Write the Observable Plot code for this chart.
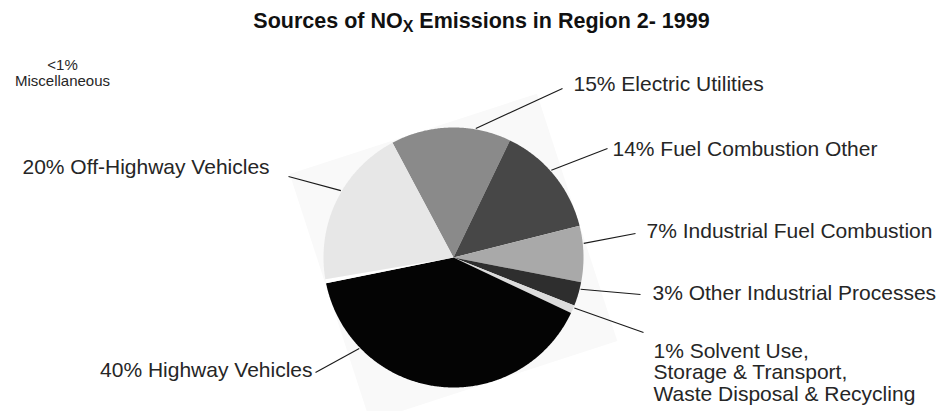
<!DOCTYPE html>
<html><head><meta charset="utf-8">
<script src="https://cdn.jsdelivr.net/npm/d3@7"></script>
<script src="https://cdn.jsdelivr.net/npm/@observablehq/plot@0.6"></script>
<style>
body{margin:0;background:#fff;}
#title{height:40px;box-sizing:border-box;padding-top:11px;padding-left:21px;text-align:center;font:bold 21.5px "Liberation Sans",Arial,sans-serif;line-height:21px;color:#111;white-space:nowrap;}
#title .sub{font-size:16px;position:relative;top:4px;}
</style></head><body>
<div id="title">Sources of NO<span class="sub">X</span> Emissions in Region 2- 1999</div>
<div id="chart"></div>
<script>
// ---- data ----
const sources = ["Electric Utilities", "Fuel Combustion Other", "Industrial Fuel Combustion",
  "Other Industrial Processes", "Solvent Use, Storage & Transport, Waste Disposal & Recycling",
  "Highway Vehicles", "Miscellaneous", "Off-Highway Vehicles"];
const shares = [15, 14, 7, 3, 1, 40, 0.5, 20];
const labelTexts = ["15% Electric Utilities", "14% Fuel Combustion Other", "7% Industrial Fuel Combustion",
  "3% Other Industrial Processes", "1% Solvent Use,\nStorage & Transport,\nWaste Disposal & Recycling",
  "40% Highway Vehicles", "<1%\nMiscellaneous", "20% Off-Highway Vehicles"];

// ---- styles ----
const grays = ["#8a8a8a", "#474747", "#a9a9a9", "#2e2e2e", "#dcdcdc", "#040404", "#ffffff", "#e7e7e7"];

// ---- layout ----
const W = 942, H = 411, TOP = 40;
const cx = 453, cy = 257, R = 130, startDeg = -28, tiltDeg = -18;
const labelX = [573, 612, 646, 652, 653, 312, 62, 22];
const labelY = [84, 149, 230.5, 293, 372, 370, 72.6, 167];
const labelAnchor = ["start", "start", "start", "start", "start", "end", "middle", "start"];
const labelSize = [21, 21, 21, 21, 21, 21, 15, 21];
const labelLH = [1, 1, 1, 1, 1.02, 1, 1.03, 1];
const leaderAngle = [9.8, 48.3, 83.8, 104, 112.7, 226, null, 300.7];
const leaderEndX = [562, 607, 635, 640, 643, 315, null, 288];
const leaderEndY = [88, 148, 233, 294, 332, 372, null, 176];

const rad = d => d * Math.PI / 180;
const pie = d3.pie().sort(null).startAngle(rad(startDeg)).endAngle(rad(startDeg + 360));
const arcs = pie(shares);
const px = a => cx + R * Math.sin(a), py = a => cy - R * Math.cos(a);

const wedges = arcs.map((a, i) => {
  const pts = [{x: cx, y: cy}];
  const n = Math.max(2, Math.ceil((a.endAngle - a.startAngle) / rad(0.5)) + 1);
  for (let k = 0; k < n; k++) {
    const t = a.startAngle + (a.endAngle - a.startAngle) * k / (n - 1);
    pts.push({x: px(t), y: py(t)});
  }
  pts.push({x: cx, y: cy});
  return {pts, color: grays[i], name: sources[i]};
});

// faint tilted square behind the pie (scanned image backdrop)
const bg = [[-1, -1], [1, -1], [1, 1], [-1, 1], [-1, -1]].map(([u, v]) => {
  const t = rad(tiltDeg);
  return {x: cx + R * (u * Math.cos(t) - v * Math.sin(t)), y: cy + R * (u * Math.sin(t) + v * Math.cos(t))};
});

const leaders = sources.map((s, i) => leaderAngle[i] == null ? null : {
  x1: cx + (R + 1) * Math.sin(rad(leaderAngle[i])), y1: cy - (R + 1) * Math.cos(rad(leaderAngle[i])),
  x2: leaderEndX[i], y2: leaderEndY[i]
}).filter(d => d);

const labels = labelTexts.map((t, i) => ({t, x: labelX[i], y: labelY[i], anchor: labelAnchor[i], size: labelSize[i], lh: labelLH[i]}));

const marks = [
  Plot.line(bg, {x: "x", y: "y", fill: "#f9f9f9", stroke: "none"}),
  ...wedges.map(w => Plot.line(w.pts, {x: "x", y: "y", fill: w.color, stroke: "none", title: () => w.name})),
  Plot.link(leaders, {x1: "x1", y1: "y1", x2: "x2", y2: "y2", stroke: "#1a1a1a", strokeWidth: 1.1}),
  ...labels.map(l => Plot.text([l], {x: "x", y: "y", text: "t", textAnchor: l.anchor, lineAnchor: "middle",
    fontSize: l.size, lineHeight: l.lh, fontFamily: "Liberation Sans, Arial, sans-serif", fill: "#262626"}))
];

const chart = Plot.plot({
  width: W, height: H - TOP, margin: 0,
  x: {domain: [0, W], range: [0, W], axis: null},
  y: {domain: [TOP, H], range: [0, H - TOP], axis: null},
  style: {background: "transparent", overflow: "visible"},
  marks
});
document.getElementById("chart").appendChild(chart);
</script>
</body></html>
